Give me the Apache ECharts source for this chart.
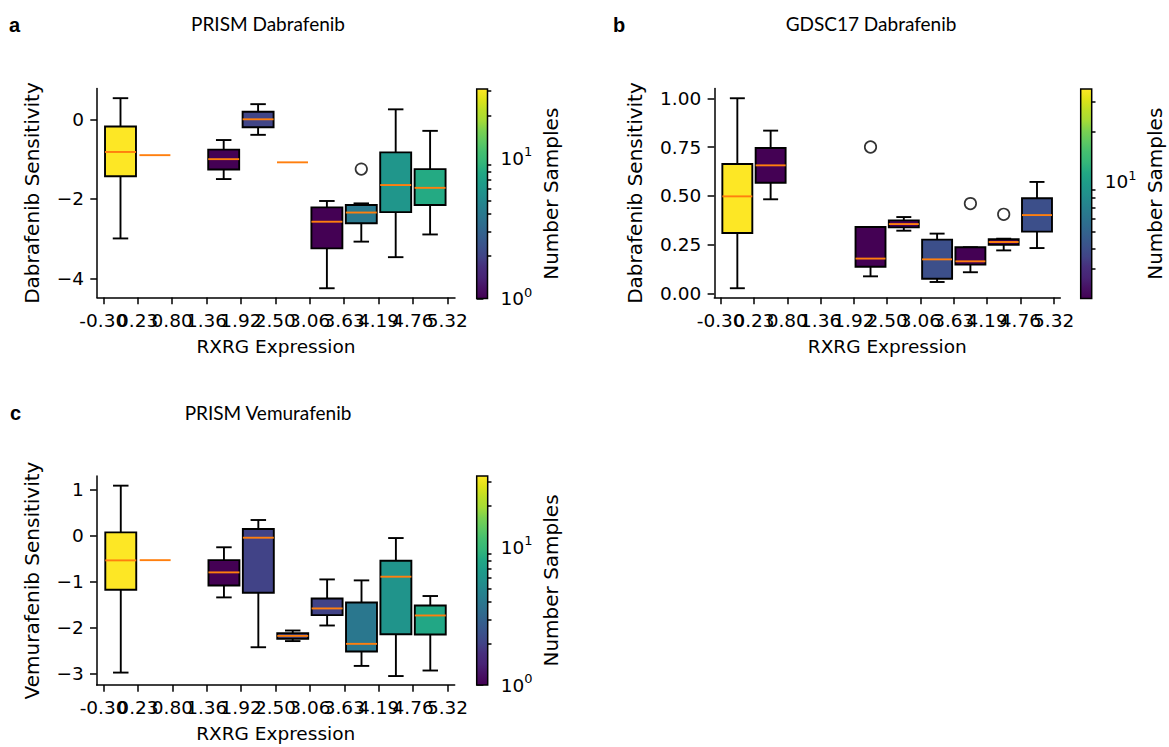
<!DOCTYPE html>
<html><head><meta charset="utf-8">
<script src="https://cdn.jsdelivr.net/npm/echarts@6/dist/echarts.min.js"></script>
<style>html,body{margin:0;padding:0;background:#fff}#chart{width:1169px;height:747px}</style>
</head><body><div id="chart"></div>
<script>
// ---------------- data ----------------
const xTickLabels = ['-0.30','0.23','0.80','1.36','1.92','2.50','3.06','3.63','4.19','4.76','5.32'];

// rows: [bin, whiskerLow, q1, median, q3, whiskerHigh]
const prismDabBoxes = [
  [0, -2.99, -1.43, -0.82, -0.18, 0.53],
  [1, -0.90, -0.90, -0.90, -0.90, -0.90],
  [3, -1.50, -1.26, -1.00, -0.76, -0.52],
  [4, -0.39, -0.20, 0.00, 0.19, 0.38],
  [5, -1.08, -1.08, -1.08, -1.08, -1.08],
  [6, -4.24, -3.24, -2.57, -2.21, -2.05],
  [7, -3.07, -2.61, -2.34, -2.15, -2.11],
  [8, -3.46, -2.33, -1.65, -0.83, 0.25],
  [9, -2.89, -2.15, -1.72, -1.25, -0.29]
];
const prismDabCounts = [31, 1, 1, 2, 1, 1, 4, 6, 8];
const prismDabOutliers = [[7, -1.25]];

const gdscDabBoxes = [
  [0, 0.026, 0.309, 0.497, 0.663, 1.00],
  [1, 0.482, 0.567, 0.656, 0.745, 0.834],
  [4, 0.087, 0.136, 0.178, 0.340, 0.340],
  [5, 0.321, 0.338, 0.355, 0.374, 0.391],
  [6, 0.058, 0.075, 0.174, 0.275, 0.306],
  [7, 0.108, 0.147, 0.164, 0.236, 0.236],
  [8, 0.220, 0.249, 0.263, 0.277, 0.280],
  [9, 0.232, 0.316, 0.401, 0.487, 0.571]
];
const gdscDabCounts = [36, 2, 2, 2, 4, 2, 2, 4];
const gdscDabOutliers = [[4, 0.750], [7, 0.460], [8, 0.405]];

const prismVemBoxes = [
  [0, -2.985, -1.185, -0.545, 0.065, 1.08],
  [1, -0.54, -0.54, -0.54, -0.54, -0.54],
  [3, -1.35, -1.09, -0.806, -0.54, -0.26],
  [4, -2.434, -1.25, -0.052, 0.137, 0.333],
  [5, -2.30, -2.25, -2.187, -2.129, -2.07],
  [6, -1.961, -1.736, -1.59, -1.373, -0.959],
  [7, -2.84, -2.527, -2.36, -1.46, -0.98],
  [8, -3.06, -2.15, -0.90, -0.553, -0.059],
  [9, -2.94, -2.157, -1.743, -1.525, -1.32]
];
const prismVemCounts = [33, 1, 1, 2, 2, 2, 4, 6, 8];
const prismVemOutliers = [];

// colour-bar ranges (number of samples, log scale)
const prismDabRange = [1, 31];
const gdscDabRange = [2, 36];
const prismVemRange = [1, 33];
const cbarMajor = [1, 10];
const cbarMinor = [2, 3, 4, 5, 6, 7, 8, 9, 20, 30];

const prismDabYTicks = [-4, -2, 0];
const gdscDabYTicks = [0, 0.25, 0.5, 0.75, 1.0];
const prismVemYTicks = [-3, -2, -1, 0, 1];

// ---------------- styles / helpers ----------------
const VIRIDIS = ['#440154','#471164','#482475','#472f7d','#414487','#3b528b','#355f8d','#2f6c8e','#2a788e','#25848e','#21918c','#1e9c89','#22a884','#35b779','#44bf70','#5ec962','#7ad151','#a5db36','#bddf26','#dfe318','#fde725'];
function hex2rgb(h){return [parseInt(h.slice(1,3),16),parseInt(h.slice(3,5),16),parseInt(h.slice(5,7),16)];}
function viridis(t){
  t = Math.max(0, Math.min(1, t));
  const p = t * (VIRIDIS.length - 1), i = Math.min(Math.floor(p), VIRIDIS.length - 2), f = p - i;
  const a = hex2rgb(VIRIDIS[i]), b = hex2rgb(VIRIDIS[i+1]);
  return 'rgb(' + a.map((v, k) => Math.round(v + (b[k]-v)*f)).join(',') + ')';
}
function countColor(n, range){
  return viridis((Math.log(n) - Math.log(range[0])) / (Math.log(range[1]) - Math.log(range[0])));
}
const FONT = 'DejaVu Sans';
const FS = 18.5;
const FSV = 20;
const LW = 1.9;

function renderBox(params, api){
  const c = api.value(0) + 0.5;
  const lo = api.value(1), q1 = api.value(2), med = api.value(3), q3 = api.value(4), hi = api.value(5);
  const halfW = 0.45, capHalf = 0.225;
  const P = (x, y) => api.coord([x, y]);
  const line = (p, q, col) => ({type:'line', shape:{x1:p[0], y1:p[1], x2:q[0], y2:q[1]}, style:{stroke: col || '#000', lineWidth: LW}});
  const ch = [];
  if (q3 > q1) {
    ch.push(line(P(c, q3), P(c, hi)));
    ch.push(line(P(c, q1), P(c, lo)));
    ch.push(line(P(c - capHalf, hi), P(c + capHalf, hi)));
    ch.push(line(P(c - capHalf, lo), P(c + capHalf, lo)));
    const a = P(c - halfW, q3), b = P(c + halfW, q1);
    ch.push({type:'rect', shape:{x:a[0], y:a[1], width:b[0]-a[0], height:b[1]-a[1]}, style:{fill: api.visual('color'), stroke:'#000', lineWidth: LW}});
  }
  ch.push(line(P(c - halfW, med), P(c + halfW, med), '#ff7f0e'));
  return {type:'group', children: ch};
}

function renderBar(params, api){
  const p0 = api.coord([api.value(0), api.value(1)]);
  const p1 = api.coord([api.value(2), api.value(3)]);
  const stops = VIRIDIS.map((c, i) => ({offset: i / (VIRIDIS.length - 1), color: c}));
  return {type:'rect', shape:{x:p0[0], y:p1[1], width:p1[0]-p0[0], height:p0[1]-p1[1]},
    style:{fill: new echarts.graphic.LinearGradient(0, 1, 0, 0, stops), stroke:'#000', lineWidth:1.5}};
}

const panels = [
  {boxes: prismDabBoxes, counts: prismDabCounts, outliers: prismDabOutliers, range: prismDabRange,
   yTicks: prismDabYTicks, yName:'Dabrafenib Sensitivity', yMin:-4.472, yMax:0.773, yFmt: v => String(v).replace('-', '\u2212'),
   grid:{left:97, top:88.5, width:358, height:209}, xMin:-0.183, xMax:10.224, yGap:55,
   cbar:{left:476.7, top:89, width:10.8, height:209.5}},
  {boxes: gdscDabBoxes, counts: gdscDabCounts, outliers: gdscDabOutliers, range: gdscDabRange,
   yTicks: gdscDabYTicks, yName:'Dabrafenib Sensitivity', yMin:-0.0215, yMax:1.050, yFmt: v => v.toFixed(2),
   grid:{left:714.3, top:88.5, width:346, height:209}, xMin:-0.192, xMax:10.2, yGap:69,
   cbar:{left:1080.7, top:89, width:11, height:209.5}},
  {boxes: prismVemBoxes, counts: prismVemCounts, outliers: prismVemOutliers, range: prismVemRange,
   yTicks: prismVemYTicks, yName:'Vemurafenib Sensitivity', yMin:-3.255, yMax:1.29, yFmt: v => String(v).replace('-', '\u2212'),
   grid:{left:96.7, top:476, width:358, height:209}, xMin:-0.2, xMax:10.21, yGap:55,
   cbar:{left:476.7, top:476, width:11, height:209}}
];

const grid = [], xAxis = [], yAxis = [], series = [];
const tickIdx = xTickLabels.map((_, i) => i);
const evenIdx = tickIdx.filter(i => i % 2 === 0);
const oddIdx = tickIdx.filter(i => i % 2 === 1);
const txt = {color:'#000', fontFamily: FONT, fontSize: FS};
const txtV = {color:'#000', fontFamily: FONT, fontSize: FSV};
const axLine = {show:true, onZero:false, lineStyle:{color:'#000', width:1.5}};
const axTick = (vals, len) => ({show:true, customValues: vals, length: len, lineStyle:{color:'#000', width:1.5}});
const xLabel = vals => Object.assign({show:true, customValues: vals, showMinLabel:true, showMaxLabel:true, hideOverlap:false,
  margin: 13, formatter: v => xTickLabels[Math.round(v)]}, txt);

panels.forEach((p, k) => {
  // main plot
  grid.push(Object.assign({containLabel:false}, p.grid));
  const gi = grid.length - 1;
  xAxis.push({gridIndex: gi, type:'value', min:p.xMin, max:p.xMax, position:'bottom',
    axisLine: axLine, axisTick: axTick(tickIdx, 6.7), splitLine:{show:false}, axisLabel: xLabel(evenIdx),
    name:'RXRG Expression', nameLocation:'middle', nameGap: 39, nameTextStyle: Object.assign({}, txt)});
  const xi = xAxis.length - 1;
  // second bottom axis carrying the odd tick labels (labels overlap exactly as in the reference)
  xAxis.push({gridIndex: gi, type:'value', min:p.xMin, max:p.xMax, position:'bottom', offset:0,
    axisLine:{show:false}, axisTick:{show:false}, splitLine:{show:false}, axisLabel: xLabel(oddIdx)});
  yAxis.push({gridIndex: gi, type:'value', min:p.yMin, max:p.yMax,
    axisLine: axLine, axisTick: axTick(p.yTicks, 6.7), splitLine:{show:false},
    axisLabel: Object.assign({show:true, customValues: p.yTicks, showMinLabel:true, showMaxLabel:true, margin: 13, formatter: p.yFmt}, txt),
    name: p.yName, nameLocation:'middle', nameGap: p.yGap, nameTextStyle: Object.assign({}, txtV)});
  const yi = yAxis.length - 1;
  series.push({type:'custom', xAxisIndex: xi, yAxisIndex: yi, renderItem: renderBox, silent:true, clip:false,
    data: p.boxes.map((row, i) => ({value: row, itemStyle:{color: countColor(p.counts[i], p.range)}}))});
  series.push({type:'scatter', xAxisIndex: xi, yAxisIndex: yi, silent:true, symbol:'circle', symbolSize: 11.5,
    itemStyle:{color:'rgba(0,0,0,0)', borderColor:'#000', borderWidth:1.7},
    data: p.outliers.map(o => [o[0] + 0.5, o[1]])});

  // colour bar
  grid.push(Object.assign({containLabel:false}, p.cbar));
  const cg = grid.length - 1;
  const lmin = Math.log10(p.range[0]), lmax = Math.log10(p.range[1]);
  const major = cbarMajor.filter(v => v >= p.range[0] && v <= p.range[1]).map(Math.log10);
  const minor = cbarMinor.filter(v => v > p.range[0] && v <= p.range[1]).map(Math.log10);
  xAxis.push({gridIndex: cg, type:'value', min:0, max:1, show:false});
  const cx = xAxis.length - 1;
  yAxis.push({gridIndex: cg, type:'value', position:'right', min:lmin, max:lmax,
    axisLine:{show:false}, splitLine:{show:false}, axisTick: axTick(major, 6.7),
    axisLabel:{show:true, customValues: major, showMinLabel:true, showMaxLabel:true, margin: 13,
      formatter: v => '{b|10}{s|' + Math.round(v) + '}',
      rich:{b: Object.assign({lineHeight: 26}, txt), s:{color:'#000', fontFamily: FONT, fontSize: 13, lineHeight: 13, verticalAlign:'top'}}},
    name:'Number Samples', nameLocation:'middle', nameRotate: 90, nameGap: 53, nameTextStyle: Object.assign({}, txtV)});
  const cy = yAxis.length - 1;
  yAxis.push({gridIndex: cg, type:'value', position:'right', min:lmin, max:lmax,
    axisLine:{show:false}, splitLine:{show:false}, axisTick: axTick(minor, 3.8), axisLabel:{show:false}});
  series.push({type:'custom', xAxisIndex: cx, yAxisIndex: cy, renderItem: renderBar, silent:true, clip:false,
    data: [[0, lmin, 1, lmax]]});
});

const titleFont = 'Lato';
const graphic = [
  {type:'text', x:268, y:23, style:{text:'PRISM Dabrafenib', fontFamily:titleFont, fontSize:19, fill:'#000', align:'center', verticalAlign:'middle'}},
  {type:'text', x:871, y:23, style:{text:'GDSC17 Dabrafenib', fontFamily:titleFont, fontSize:19, fill:'#000', align:'center', verticalAlign:'middle'}},
  {type:'text', x:268, y:412, style:{text:'PRISM Vemurafenib', fontFamily:titleFont, fontSize:19, fill:'#000', align:'center', verticalAlign:'middle'}},
  {type:'text', x:9, y:25, style:{text:'a', fontFamily:'Liberation Sans', fontWeight:'bold', fontSize:20, fill:'#000', align:'left', verticalAlign:'middle'}},
  {type:'text', x:613, y:25, style:{text:'b', fontFamily:'Liberation Sans', fontWeight:'bold', fontSize:20, fill:'#000', align:'left', verticalAlign:'middle'}},
  {type:'text', x:10, y:413, style:{text:'c', fontFamily:'Liberation Sans', fontWeight:'bold', fontSize:20, fill:'#000', align:'left', verticalAlign:'middle'}}
];

const chart = echarts.init(document.getElementById('chart'), null, {renderer:'svg'});
chart.setOption({animation:false, backgroundColor:'#fff', grid, xAxis, yAxis, series, graphic});
</script></body></html>
